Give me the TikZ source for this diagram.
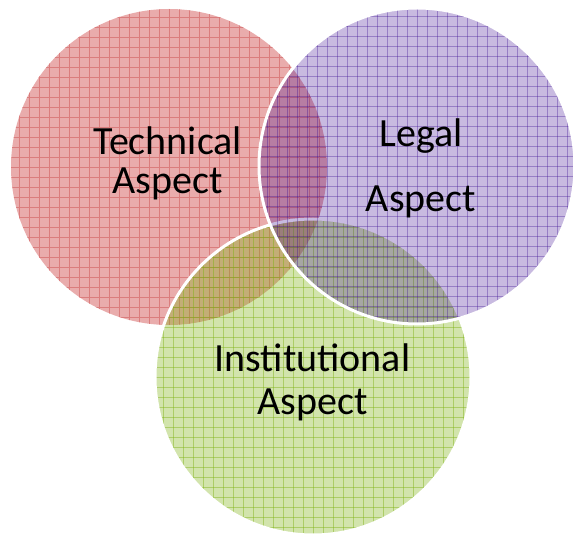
\documentclass[tikz,border=0pt]{standalone}
\usepackage{fontspec}
\setmainfont{Carlito}
\definecolor{redfill}{RGB}{233,172,172}
\definecolor{redline}{RGB}{218,125,125}
\definecolor{purpleT}{RGB}{50,0,140}
\definecolor{greenT}{RGB}{126,178,18}
\tikzset{
  venn/.style={circle, minimum size=316pt, inner sep=0pt},
  gridfill/.style 2 args={path picture={
    \foreach \k in {-17,...,17}{
      \draw[#1, draw opacity=#2, line width=0.4pt] ([xshift=\k*10pt]path picture bounding box.north) -- ([xshift=\k*10pt]path picture bounding box.south);
      \draw[#1, draw opacity=#2, line width=0.4pt] ([yshift=\k*10pt]path picture bounding box.west) -- ([yshift=\k*10pt]path picture bounding box.east);
    }}},
  rim/.style={white, line width=3pt},
  lbl/.style={font=\fontsize{40}{40}\selectfont, anchor=base, inner sep=0pt, text=black}
}
\begin{document}
\begin{tikzpicture}[x=1pt,y=-1pt]
\useasboundingbox (0,0) rectangle (573,537);
\node[venn, fill=redfill, gridfill={redline}{1}] (tech) at (169,167) {};
\node[venn, fill=greenT, fill opacity=0.35, gridfill={greenT}{0.45}] (inst) at (313,377) {};
\draw[rim] (inst.center) circle[radius=158];
\node[venn, fill=purpleT, fill opacity=0.27, gridfill={purpleT}{0.32}] (legal) at (417,166) {};
\draw[rim] (legal.center) circle[radius=158];
\node[lbl] (t1) at (167.5,155) {Technical};
\node[lbl] (t2) at (167.5,194) {Aspect};
\node[lbl] (l1) at (421,147) {Legal};
\node[lbl] (l2) at (421,212) {Aspect};
\node[lbl] (i1) at (312.5,371) {Institutional};
\node[lbl] (i2) at (312.5,414) {Aspect};
\end{tikzpicture}
\end{document}
